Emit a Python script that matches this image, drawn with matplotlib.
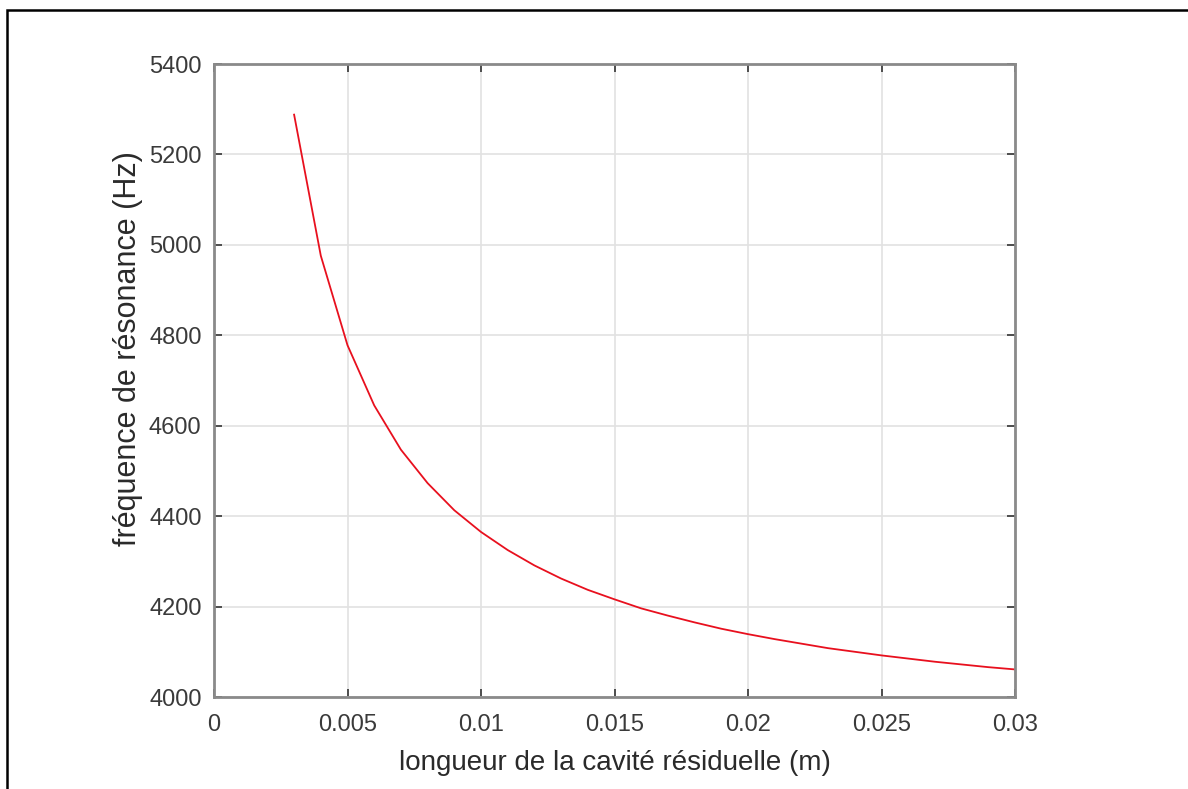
import matplotlib
matplotlib.use("Agg")
import matplotlib.pyplot as plt
from matplotlib.patches import Rectangle

plt.rcParams['font.family'] = ['Liberation Sans', 'DejaVu Sans']

# longueur de la cavite (m) et frequence de resonance (Hz)
longueur = [0.003, 0.004, 0.005, 0.006, 0.007, 0.008, 0.009, 0.010,
            0.011, 0.012, 0.013, 0.014, 0.015, 0.016, 0.017, 0.018,
            0.019, 0.020, 0.021, 0.022, 0.023, 0.024, 0.025, 0.026,
            0.027, 0.028, 0.029, 0.030]
frequence = [5288, 4976, 4778, 4645, 4547, 4473, 4413, 4365,
             4325, 4291, 4262, 4237, 4216, 4196, 4180, 4165,
             4151, 4139, 4128, 4118, 4108, 4100, 4092, 4085,
             4078, 4072, 4066, 4061]

xticks = [0, 0.005, 0.01, 0.015, 0.02, 0.025, 0.03]
xticklabels = ['0', '0.005', '0.01', '0.015', '0.02', '0.025', '0.03']
yticks = [4000, 4200, 4400, 4600, 4800, 5000, 5200, 5400]

fig = plt.figure(figsize=(11.88, 7.89), dpi=100)
ax = fig.add_axes([214/1188, 1 - 697/789, (1015 - 214)/1188, (697 - 64)/789])

ax.plot(longueur, frequence, color='#e8101e', lw=1.3)

ax.set_xlim(0, 0.03)
ax.set_ylim(4000, 5400)
ax.set_xticks(xticks)
ax.set_xticklabels(xticklabels)
ax.set_yticks(yticks)

ax.grid(True, color='#e2e2e2', lw=1.2)
ax.set_axisbelow(True)
for s in ax.spines.values():
    s.set_color('#8a8a8a')
    s.set_linewidth(2)
ax.tick_params(direction='in', length=6, width=1.2, color='#333333',
               labelsize=17, labelcolor='#3a3a3a', top=True, right=True,
               labeltop=False, labelright=False)
ax.tick_params(axis='x', pad=12)
ax.tick_params(axis='y', pad=9)

ax.set_xlabel('longueur de la cavité résiduelle (m)', fontsize=20, color='#2a2a2a', va='center')
ax.set_ylabel('fréquence de résonance (Hz)', fontsize=22, color='#2a2a2a', va='center')
ax.xaxis.set_label_coords(0.5, -0.105)
ax.yaxis.set_label_coords(-0.107, 0.55)

# cadre noir autour de la figure (coupe a droite et en bas)
fig.patches.append(Rectangle((7/1188, -0.1), 1.2, 1.1 - 10/789,
                             transform=fig.transFigure, fill=False,
                             ec='black', lw=1.8))

fig.savefig('out.png', dpi=100)
